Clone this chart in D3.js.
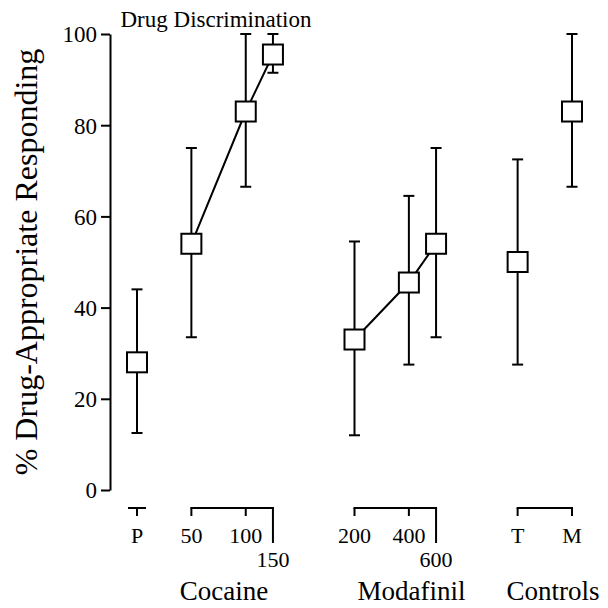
<!DOCTYPE html>
<html>
<head>
<meta charset="utf-8">
<script src="https://cdn.jsdelivr.net/npm/d3@7"></script>
<style>
  html, body { margin: 0; padding: 0; background: #fff; }
  svg { display: block; }
  text { font-family: "Liberation Serif", "Times New Roman", serif; fill: #000; }
</style>
</head>
<body>
<svg id="chart" width="608" height="608"></svg>
<script>
// Dose conditions along the x axis
const conditions = ["P", "50", "100", "150", "200", "400", "600", "T", "M"];
const slots      = [0, 1, 2, 2.5, 4, 5, 5.5, 7, 8];
const groupOf    = ["Placebo", "Cocaine", "Cocaine", "Cocaine", "Modafinil", "Modafinil", "Modafinil", "Controls", "Controls"];

// Mean % drug-appropriate responding with error-bar limits
const means = [28, 54, 83, 95.5, 33, 45.5, 54, 50, 83];
const lower = [12.5, 33.5, 66.5, 91.5, 12, 27.5, 33.5, 27.5, 66.5];
const upper = [44, 75, 100, 100, 54.5, 64.5, 75, 72.5, 100];

const yTicks = [0, 20, 40, 60, 80, 100];
const groups = ["Cocaine", "Modafinil", "Controls"];
const connected = ["Cocaine", "Modafinil"];

// Layout: where each group name sits, in x-slot units
const groupLabelAt = { Cocaine: 1.6, Modafinil: 5.05, Controls: 7.65 };

const svg = d3.select("#chart");

const x = d3.scaleLinear().domain([0, 8]).range([137, 572]);
const y = d3.scaleLinear().domain([0, 100]).range([490, 34]);

const pts = conditions.map((c, i) => ({
  c, slot: slots[i], group: groupOf[i], mean: means[i], lo: lower[i], hi: upper[i]
}));

// Y axis
const yAxis = svg.append("g")
  .attr("transform", "translate(110,0)")
  .call(d3.axisLeft(y).tickValues(yTicks).tickSize(9).tickSizeOuter(0).tickPadding(4));
yAxis.attr("font-family", null).attr("font-size", null);
yAxis.select(".domain").attr("stroke", "#000").attr("stroke-width", 2);
yAxis.selectAll(".tick line").attr("stroke", "#000").attr("stroke-width", 2);
yAxis.selectAll(".tick text")
  .style("font-size", "23px")
  .attr("dy", "0.34em")
  .attr("fill", "#000");

svg.append("text")
  .attr("transform", "translate(37,262) rotate(-90)")
  .attr("text-anchor", "middle")
  .style("font-size", "32px")
  .text("% Drug-Appropriate Responding");

svg.append("text")
  .attr("x", 216).attr("y", 27)
  .attr("text-anchor", "middle")
  .style("font-size", "23px")
  .text("Drug Discrimination");

// Error bars
const capW = 5.5;
const eb = svg.append("g").attr("stroke", "#000").attr("stroke-width", 2);
pts.forEach(d => {
  eb.append("line").attr("x1", x(d.slot)).attr("x2", x(d.slot)).attr("y1", y(d.lo)).attr("y2", y(d.hi));
  eb.append("line").attr("x1", x(d.slot) - capW).attr("x2", x(d.slot) + capW).attr("y1", y(d.lo)).attr("y2", y(d.lo));
  eb.append("line").attr("x1", x(d.slot) - capW).attr("x2", x(d.slot) + capW).attr("y1", y(d.hi)).attr("y2", y(d.hi));
});

// Connecting lines within each dose-response group
const line = d3.line().x(d => x(d.slot)).y(d => y(d.mean));
connected.forEach(g => {
  svg.append("path")
    .datum(pts.filter(d => d.group === g))
    .attr("d", line)
    .attr("fill", "none")
    .attr("stroke", "#000")
    .attr("stroke-width", 2);
});

// Square markers
const sq = 20;
svg.append("g").selectAll("rect").data(pts).join("rect")
  .attr("x", d => x(d.slot) - sq / 2)
  .attr("y", d => y(d.mean) - sq / 2)
  .attr("width", sq).attr("height", sq)
  .attr("fill", "#fff").attr("stroke", "#000").attr("stroke-width", 2);

// Bottom category brackets
const bY = 508, tickLen = 8, longLen = 35;
const br = svg.append("g").attr("stroke", "#000").attr("stroke-width", 2).attr("fill", "none");
const labels = svg.append("g").style("font-size", "22px").attr("text-anchor", "middle");

// Placebo stand-alone tick
const p0 = pts[0];
br.append("line").attr("x1", x(p0.slot) - 9).attr("x2", x(p0.slot) + 9).attr("y1", bY).attr("y2", bY);
br.append("line").attr("x1", x(p0.slot)).attr("x2", x(p0.slot)).attr("y1", bY).attr("y2", bY + tickLen);
labels.append("text").attr("x", x(p0.slot)).attr("y", 543).text(p0.c);

groups.forEach(g => {
  const gp = pts.filter(d => d.group === g);
  const x0 = x(gp[0].slot), x1 = x(gp[gp.length - 1].slot);
  br.append("line").attr("x1", x0 - 1).attr("x2", x1 + 1).attr("y1", bY).attr("y2", bY);
  gp.forEach(d => {
    const isHalf = d.slot % 1 !== 0;
    br.append("line").attr("x1", x(d.slot)).attr("x2", x(d.slot))
      .attr("y1", bY).attr("y2", bY + (isHalf ? longLen : tickLen));
    labels.append("text")
      .attr("x", x(d.slot))
      .attr("y", isHalf ? 567 : 543)
      .text(d.c);
  });
  svg.append("text")
    .attr("x", x(groupLabelAt[g])).attr("y", 600)
    .attr("text-anchor", "middle")
    .style("font-size", "27px")
    .text(g);
});
</script>
</body>
</html>
